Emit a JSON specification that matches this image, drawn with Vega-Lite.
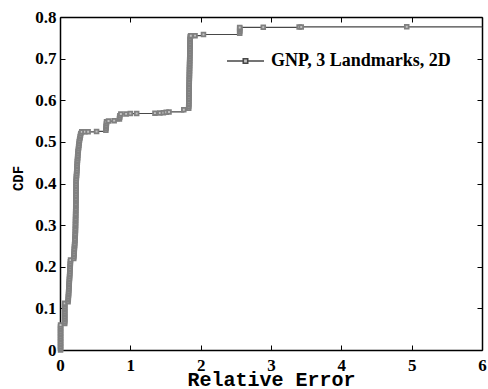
{
  "$schema": "https://vega.github.io/schema/vega-lite/v6.json",
  "width": 422,
  "height": 333,
  "autosize": "none",
  "padding": {"left": 60, "top": 17, "right": 6, "bottom": 39},
  "background": "white",
  "config": {"view": {"stroke": null}},
  "datasets": {
    "cdf": [
      {"e":0.008,"c":0},{"e":0.008,"c":0.004},{"e":0.008,"c":0.008},{"e":0.008,"c":0.012},{"e":0.008,"c":0.016},{"e":0.008,"c":0.02},{"e":0.008,"c":0.024},{"e":0.008,"c":0.028},{"e":0.008,"c":0.032},{"e":0.008,"c":0.036},{"e":0.008,"c":0.04},{"e":0.008,"c":0.044},{"e":0.008,"c":0.048},{"e":0.008,"c":0.052},{"e":0.008,"c":0.056},{"e":0.008,"c":0.06},
      {"e":0.067,"c":0.064},{"e":0.067,"c":0.068},{"e":0.067,"c":0.072},{"e":0.067,"c":0.076},{"e":0.067,"c":0.08},{"e":0.067,"c":0.084},{"e":0.067,"c":0.088},{"e":0.067,"c":0.092},{"e":0.067,"c":0.096},{"e":0.067,"c":0.1},{"e":0.067,"c":0.104},{"e":0.067,"c":0.108},{"e":0.067,"c":0.112},
      {"e":0.115,"c":0.116},{"e":0.116,"c":0.12},{"e":0.118,"c":0.124},{"e":0.119,"c":0.128},{"e":0.121,"c":0.132},{"e":0.122,"c":0.136},{"e":0.123,"c":0.14},{"e":0.125,"c":0.144},{"e":0.126,"c":0.148},{"e":0.128,"c":0.152},{"e":0.129,"c":0.156},{"e":0.13,"c":0.16},{"e":0.132,"c":0.164},{"e":0.133,"c":0.168},{"e":0.135,"c":0.172},{"e":0.136,"c":0.176},{"e":0.137,"c":0.18},{"e":0.139,"c":0.184},{"e":0.14,"c":0.188},{"e":0.141,"c":0.192},{"e":0.143,"c":0.196},{"e":0.144,"c":0.2},{"e":0.146,"c":0.204},{"e":0.147,"c":0.208},{"e":0.148,"c":0.212},{"e":0.15,"c":0.216},
      {"e":0.195,"c":0.22},{"e":0.197,"c":0.224},{"e":0.198,"c":0.228},{"e":0.2,"c":0.232},{"e":0.201,"c":0.236},{"e":0.203,"c":0.24},{"e":0.204,"c":0.244},{"e":0.206,"c":0.248},{"e":0.207,"c":0.252},{"e":0.209,"c":0.256},{"e":0.21,"c":0.26},{"e":0.212,"c":0.264},{"e":0.213,"c":0.268},{"e":0.215,"c":0.272},{"e":0.216,"c":0.276},{"e":0.218,"c":0.28},
      {"e":0.218,"c":0.284},{"e":0.219,"c":0.288},{"e":0.219,"c":0.292},{"e":0.22,"c":0.296},{"e":0.22,"c":0.3},{"e":0.221,"c":0.304},{"e":0.221,"c":0.308},{"e":0.221,"c":0.312},{"e":0.222,"c":0.316},{"e":0.222,"c":0.32},{"e":0.223,"c":0.324},{"e":0.223,"c":0.328},{"e":0.223,"c":0.332},{"e":0.224,"c":0.336},{"e":0.224,"c":0.34},{"e":0.224,"c":0.344},{"e":0.225,"c":0.348},{"e":0.225,"c":0.352},{"e":0.225,"c":0.356},{"e":0.226,"c":0.36},{"e":0.226,"c":0.364},{"e":0.226,"c":0.368},{"e":0.227,"c":0.372},{"e":0.227,"c":0.376},
      {"e":0.227,"c":0.38},{"e":0.228,"c":0.384},{"e":0.228,"c":0.388},{"e":0.229,"c":0.392},{"e":0.229,"c":0.396},{"e":0.229,"c":0.4},{"e":0.23,"c":0.404},{"e":0.23,"c":0.408},{"e":0.232,"c":0.412},{"e":0.233,"c":0.416},{"e":0.235,"c":0.42},{"e":0.236,"c":0.424},{"e":0.238,"c":0.428},{"e":0.239,"c":0.432},{"e":0.241,"c":0.436},{"e":0.242,"c":0.44},{"e":0.244,"c":0.444},{"e":0.245,"c":0.448},{"e":0.247,"c":0.452},{"e":0.248,"c":0.456},{"e":0.25,"c":0.46},{"e":0.251,"c":0.464},{"e":0.253,"c":0.468},{"e":0.254,"c":0.472},{"e":0.257,"c":0.476},{"e":0.26,"c":0.48},{"e":0.263,"c":0.484},{"e":0.265,"c":0.488},{"e":0.268,"c":0.492},{"e":0.271,"c":0.496},{"e":0.274,"c":0.5},{"e":0.277,"c":0.504},{"e":0.282,"c":0.508},{"e":0.287,"c":0.512},{"e":0.291,"c":0.516},{"e":0.296,"c":0.52},
      {"e":0.31,"c":0.5240},{"e":0.355,"c":0.5241},{"e":0.4,"c":0.5242},{"e":0.52,"c":0.5250},
      {"e":0.652,"c":0.528},{"e":0.654,"c":0.532},{"e":0.656,"c":0.536},{"e":0.658,"c":0.54},{"e":0.66,"c":0.544},{"e":0.662,"c":0.548},
      {"e":0.69,"c":0.550},{"e":0.77,"c":0.551},
      {"e":0.845,"c":0.555},{"e":0.848,"c":0.559},{"e":0.851,"c":0.563},
      {"e":0.865,"c":0.567},{"e":0.94,"c":0.5672},{"e":1.0,"c":0.568},{"e":1.09,"c":0.5682},{"e":1.35,"c":0.569},{"e":1.42,"c":0.5692},{"e":1.47,"c":0.570},{"e":1.51,"c":0.571},{"e":1.55,"c":0.572},{"e":1.76,"c":0.577},
      {"e":1.83,"c":0.581},{"e":1.83,"c":0.585},{"e":1.831,"c":0.589},{"e":1.831,"c":0.593},{"e":1.832,"c":0.597},{"e":1.832,"c":0.601},{"e":1.833,"c":0.605},{"e":1.833,"c":0.609},{"e":1.834,"c":0.613},{"e":1.834,"c":0.617},{"e":1.835,"c":0.621},{"e":1.835,"c":0.625},{"e":1.836,"c":0.629},{"e":1.836,"c":0.633},{"e":1.837,"c":0.637},{"e":1.837,"c":0.641},{"e":1.838,"c":0.645},{"e":1.838,"c":0.649},{"e":1.839,"c":0.653},{"e":1.839,"c":0.657},{"e":1.84,"c":0.661},{"e":1.84,"c":0.665},{"e":1.841,"c":0.669},{"e":1.841,"c":0.673},{"e":1.842,"c":0.677},{"e":1.842,"c":0.681},{"e":1.843,"c":0.685},{"e":1.843,"c":0.689},{"e":1.844,"c":0.693},{"e":1.844,"c":0.697},{"e":1.845,"c":0.701},{"e":1.845,"c":0.705},{"e":1.846,"c":0.709},{"e":1.846,"c":0.713},{"e":1.847,"c":0.717},{"e":1.847,"c":0.721},{"e":1.848,"c":0.725},{"e":1.848,"c":0.729},{"e":1.849,"c":0.733},{"e":1.849,"c":0.737},{"e":1.85,"c":0.741},{"e":1.85,"c":0.745},{"e":1.851,"c":0.749},{"e":1.851,"c":0.753},
      {"e":1.86,"c":0.755},{"e":1.92,"c":0.7552},{"e":2.04,"c":0.758},
      {"e":2.555,"c":0.761},{"e":2.555,"c":0.765},{"e":2.555,"c":0.769},{"e":2.555,"c":0.773},{"e":2.555,"c":0.775},
      {"e":2.89,"c":0.7752},{"e":3.40,"c":0.776},{"e":3.43,"c":0.7762},{"e":4.93,"c":0.7764},{"e":6,"c":0.7766}
    ]
  },
  "data": {"name": "cdf"},
  "layer": [
    {
      "mark": {"type": "line", "interpolate": "step-after", "strokeWidth": 1.2},
      "encoding": {
        "x": {
          "field": "e", "type": "quantitative",
          "scale": {"domain": [0, 6], "nice": false, "zero": false},
          "axis": {
            "orient": "bottom", "values": [0, 1, 2, 3, 4, 5, 6], "title": "Relative Error",
            "grid": false, "tickSize": -5, "tickColor": "black", "tickWidth": 1,
            "domainColor": "black", "domainWidth": 1.5,
            "labelFont": "Liberation Serif", "labelFontWeight": "bold", "labelFontSize": 17, "labelColor": "black",
            "labelPadding": 12, "labelFlush": false,
            "titleFont": "Liberation Mono", "titleFontWeight": "bold", "titleFontSize": 20, "titleColor": "black",
            "titleBaseline": "alphabetic", "titleY": 35
          }
        },
        "y": {
          "field": "c", "type": "quantitative",
          "scale": {"domain": [0, 0.8], "nice": false, "zero": false},
          "axis": {
            "orient": "left", "values": [0, 0.1, 0.2, 0.3, 0.4, 0.5, 0.6, 0.7, 0.8], "format": "~g", "title": "CDF",
            "grid": false, "tickSize": -5, "tickColor": "black", "tickWidth": 1,
            "domainColor": "black", "domainWidth": 1.5,
            "labelFont": "Liberation Serif", "labelFontWeight": "bold", "labelFontSize": 17, "labelColor": "black",
            "labelPadding": 9, "labelFlush": false,
            "titleFont": "Liberation Mono", "titleFontWeight": "bold", "titleFontSize": 14, "titleColor": "black",
            "titleAngle": 270, "titleBaseline": "middle", "titleAlign": "center", "titleX": -42, "titleY": 161
          }
        },
        "order": {"field": "c", "type": "quantitative"},
        "color": {
          "datum": "GNP, 3 Landmarks, 2D",
          "scale": {"range": ["#474747"]},
          "legend": {
            "title": null, "orient": "none", "legendX": 166, "legendY": 24.5, "padding": 0,
            "symbolSize": 1369, "labelOffset": 6, "labelLimit": 0,
            "labelFont": "Liberation Serif", "labelFontWeight": "bold", "labelFontSize": 18, "labelColor": "black",
            "encode": {
              "symbols": {
                "update": {
                  "shape": {"value": "M-1,0H-0.16M0.16,0H1M-0.12,-0.12H0.12V0.12H-0.12Z"},
                  "fill": {"value": "#c4c4c4"},
                  "stroke": {"value": "#808080"},
                  "strokeWidth": {"value": 1.6},
                  "opacity": {"value": 1}
                }
              }
            }
          }
        }
      }
    },
    {
      "transform": [{"filter": "datum.e < 6"}],
      "mark": {"type": "point", "shape": "square", "filled": true, "size": 14, "fill": "#c4c4c4", "stroke": "#808080", "strokeWidth": 1.8, "opacity": 1},
      "encoding": {
        "x": {
          "field": "e", "type": "quantitative",
          "axis": {"orient": "top", "values": [0, 1, 2, 3, 4, 5, 6], "labels": false, "title": null, "grid": false,
                   "tickSize": -5, "tickColor": "black", "domainColor": "black", "domainWidth": 1.5}
        },
        "y": {
          "field": "c", "type": "quantitative",
          "axis": {"orient": "right", "values": [0, 0.1, 0.2, 0.3, 0.4, 0.5, 0.6, 0.7, 0.8], "labels": false, "title": null, "grid": false,
                   "tickSize": -5, "tickColor": "black", "domainColor": "black", "domainWidth": 1.5}
        }
      }
    }
  ],
  "resolve": {"axis": {"x": "independent", "y": "independent"}}
}
